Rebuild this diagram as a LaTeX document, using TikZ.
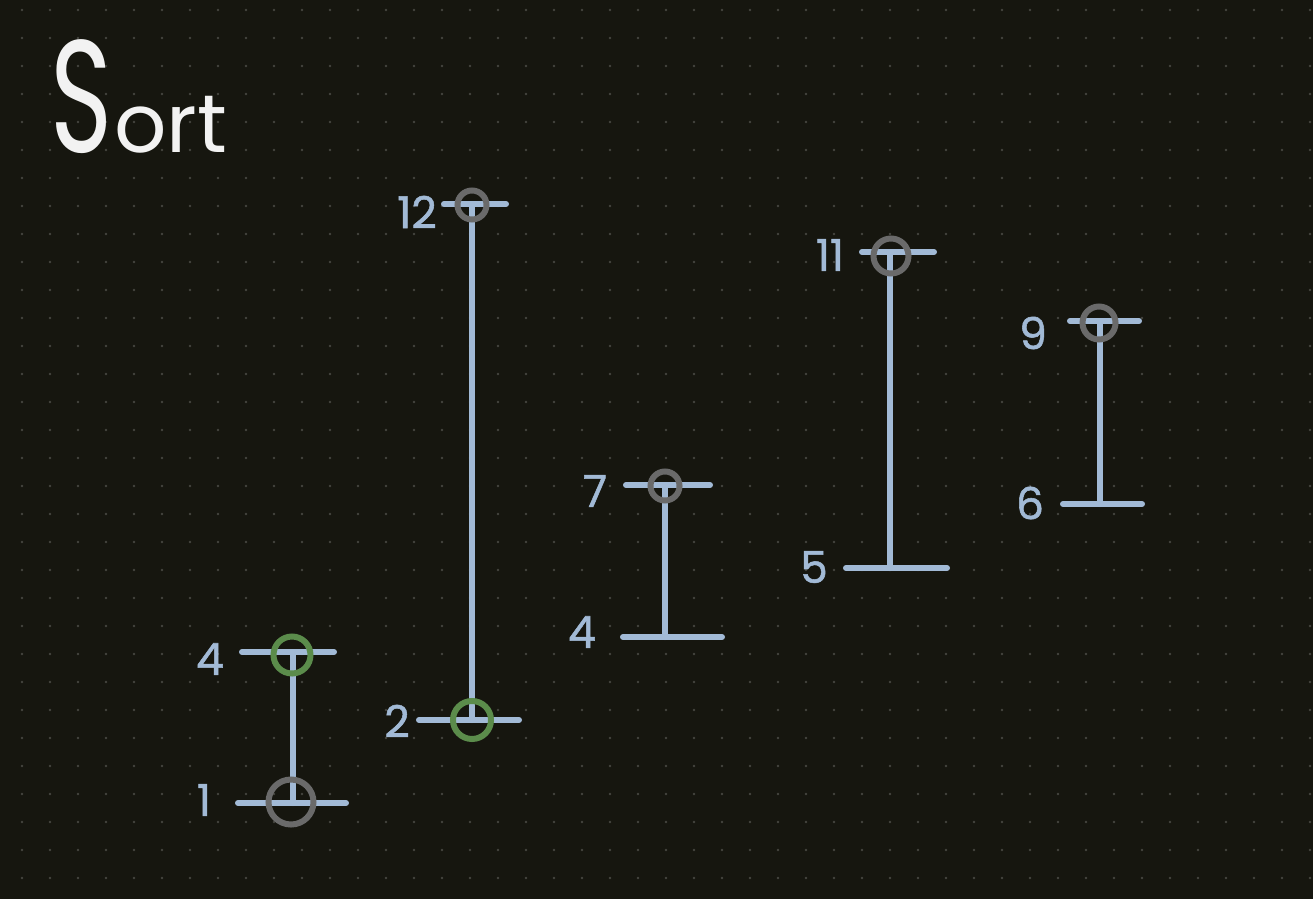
\documentclass[tikz,border=0pt]{standalone}
\usepackage{fontspec}
\setmainfont{Poppins}
\newfontfamily\handfont{Poppins}[FakeBold=1.2]
\definecolor{bg}{HTML}{16160F}
\definecolor{griddot}{HTML}{45453F}
\definecolor{ival}{HTML}{A2BAD6}
\definecolor{ringgray}{HTML}{6A6A6A}
\definecolor{ringgreen}{HTML}{5B8C4B}
\definecolor{titlewhite}{HTML}{F2F2F2}
\begin{document}
\begin{tikzpicture}[x=1pt,y=-1pt,
  bar/.style={draw=ival, line width=6pt, line cap=round},
  ring/.style={circle, draw=#1, line width=6pt, inner sep=0pt},
  num/.style={text=ival, font=\handfont\fontsize{44}{44}\selectfont, inner sep=0pt}]
\fill[bg] (0,0) rectangle (1313,899);
\useasboundingbox (0,0) rectangle (1313,899);
\foreach \i in {0,...,46}{
  \foreach \j in {0,...,31}{
    \fill[griddot] ({22+28*\i},{10+28*\j}) circle (1.3pt);
  }
}
% title
\node[text=titlewhite, anchor=base west, inner sep=0pt] (title) at (50,152)
  {\scalebox{0.66}[1]{\fontsize{160}{160}\selectfont S}\kern2pt{\fontsize{82}{82}\selectfont ort}};

% interval A
\coordinate (a1l) at (242,652); \coordinate (a1r) at (334,652);
\coordinate (a0l) at (238,803); \coordinate (a0r) at (346,803);
\coordinate (at) at (293,652); \coordinate (ab) at (293,803);
\draw[bar] (a1l) -- (a1r);
\draw[bar] (a0l) -- (a0r);
\draw[bar] (at) -- (ab);
\node[ring=ringgreen, minimum size=37pt] (ag) at (292,655) {};
\node[ring=ringgray, minimum size=45pt] (ay) at (291,802) {};
\node[num] (la4) at (210,659) {4};
\node[num] (la1) at (204,800) {1};

% interval B
\coordinate (b1l) at (444,204); \coordinate (b1r) at (506,204);
\coordinate (b0l) at (419,720); \coordinate (b0r) at (519,720);
\coordinate (bt) at (472,204); \coordinate (bb) at (472,720);
\draw[bar] (b1l) -- (b1r);
\draw[bar] (b0l) -- (b0r);
\draw[bar] (bt) -- (bb);
\node[ring=ringgray, minimum size=29pt] (by) at (472,205) {};
\node[ring=ringgreen, minimum size=38pt] (bg) at (472,720) {};
\node[num] (lb12) at (417,212) {12};
\node[num] (lb2) at (397,721) {2};

% interval C
\coordinate (c1l) at (626,485); \coordinate (c1r) at (710,485);
\coordinate (c0l) at (623,637); \coordinate (c0r) at (722,637);
\coordinate (ct) at (665,485); \coordinate (cb) at (665,637);
\draw[bar] (c1l) -- (c1r);
\draw[bar] (c0l) -- (c0r);
\draw[bar] (ct) -- (cb);
\node[ring=ringgray, minimum size=29pt] (cy) at (665,486) {};
\node[num] (lc7) at (595,491) {7};
\node[num] (lc4) at (582,632) {4};

% interval D
\coordinate (d1l) at (862,252); \coordinate (d1r) at (934,252);
\coordinate (d0l) at (846,568); \coordinate (d0r) at (947,568);
\coordinate (dt) at (890,252); \coordinate (db) at (890,568);
\draw[bar] (d1l) -- (d1r);
\draw[bar] (d0l) -- (d0r);
\draw[bar] (dt) -- (db);
\node[ring=ringgray, minimum size=35pt] (dy) at (891,256) {};
\node[num] (ld11) at (830,255) {11};
\node[num] (ld5) at (814,567) {5};

% interval E
\coordinate (e1l) at (1070,321); \coordinate (e1r) at (1139,321);
\coordinate (e0l) at (1063,504); \coordinate (e0r) at (1142,504);
\coordinate (et) at (1100,321); \coordinate (eb) at (1100,504);
\draw[bar] (e1l) -- (e1r);
\draw[bar] (e0l) -- (e0r);
\draw[bar] (et) -- (eb);
\node[ring=ringgray, minimum size=33pt] (ey) at (1099,323) {};
\node[num] (le9) at (1033,333) {9};
\node[num] (le6) at (1030,503) {6};
\end{tikzpicture}
\end{document}
